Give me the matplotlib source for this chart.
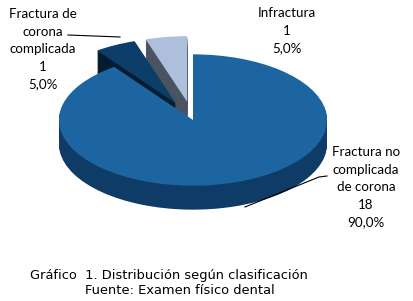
import numpy as np
import matplotlib.pyplot as plt

# data
labels = ['Fractura no\ncomplicada\nde corona', 'Fractura de\ncorona\ncomplicada', 'Infractura']
counts = [18, 1, 1]
pct = [90.0, 5.0, 5.0]
explode = [0.0, 0.28, 0.28]

top_colors = ['#1d65a0', '#0b3f69', '#aebfdc']
side_colors = ['#0f3c66', '#041b30', '#4a5362']

W, H = 413, 301
ratio = 0.49          # vertical squash of the pie (ellipse)
cx, cy = 193, 120     # pixel centre of top face
rx = 134
depth = 24
expl = [e * rx for e in explode]   # pie() takes explode in data units

def py(y):
    # pixel row -> data y
    return (H - y) / ratio

fig = plt.figure(figsize=(W / 100, H / 100), dpi=100)
ax = fig.add_axes([0, 0, 1, 1])

# sides: stack of pies shifted down
nlay = 30
for k in range(nlay, 0, -1):
    off = depth * k / nlay
    ax.pie(counts, explode=expl, colors=side_colors, startangle=90,
           counterclock=False, radius=rx, center=(cx, py(cy + off)),
           wedgeprops=dict(linewidth=0), frame=True)

# top faces
wedges, _ = ax.pie(counts, explode=expl, colors=top_colors, startangle=90,
                   counterclock=False, radius=rx, center=(cx, py(cy)),
                   wedgeprops=dict(linewidth=0), frame=True)

ax.set_aspect('auto')
ax.set_xlim(0, W)
ax.set_ylim(0, H / ratio)
ax.axis('off')

font = ['Lato', 'DejaVu Sans']
lab_fs = 9.6

def label(i, x, y):
    txt = f"{labels[i]}\n{counts[i]}\n{pct[i]:.1f}%".replace('.', ',')
    ax.text(x, py(y), txt, ha='center', va='top', fontsize=lab_fs,
            family=font, linespacing=1.56, color='#000000')

label(1, 43, 8)
label(2, 287, 7)
label(0, 366, 146)

# leader lines
ax.plot([68, 120], [py(35), py(37)], color='black', lw=0.8)
ax.plot([327, 319, 245], [py(176), py(177), py(207)], color='black', lw=0.8)

ax.text(30, py(275), 'Gráfico  1. Distribución según clasificación',
        fontsize=9.4, family='DejaVu Sans', va='center', ha='left')
ax.text(85, py(291), 'Fuente: Examen físico dental',
        fontsize=9.4, family='DejaVu Sans', va='center', ha='left')

fig.savefig('out.png', dpi=100)
